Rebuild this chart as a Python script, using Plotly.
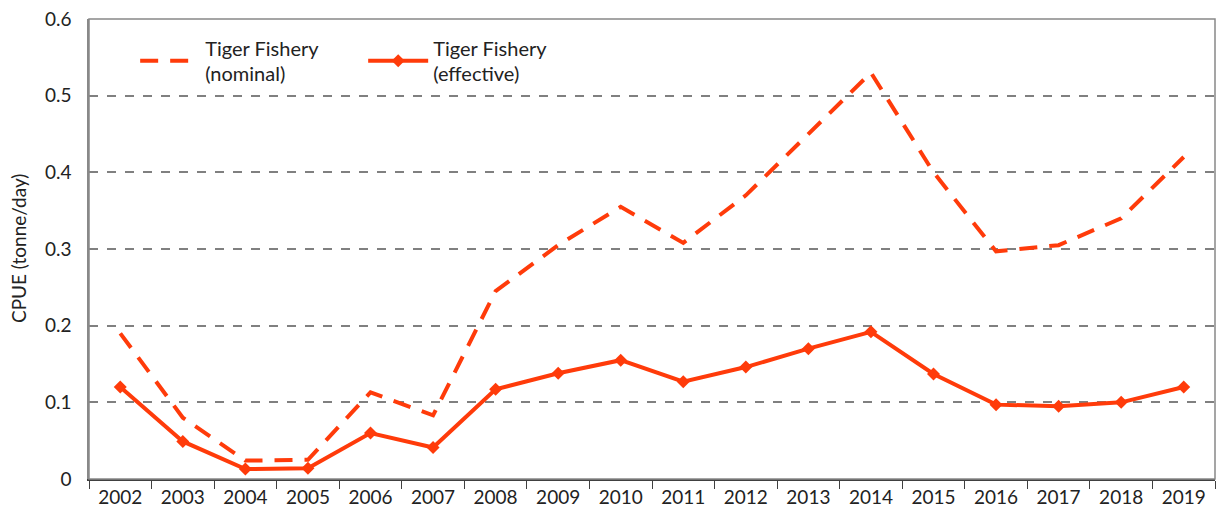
import plotly.graph_objects as go

years = [str(y) for y in range(2002, 2020)]
nominal = [0.19, 0.08, 0.024, 0.025, 0.113, 0.083, 0.245, 0.305, 0.355, 0.308,
           0.37, 0.45, 0.53, 0.40, 0.297, 0.305, 0.34, 0.42]
effective = [0.12, 0.049, 0.013, 0.014, 0.06, 0.041, 0.117, 0.138, 0.155, 0.127,
             0.146, 0.17, 0.192, 0.137, 0.097, 0.095, 0.10, 0.12]

RED = "#FF3B0A"
FONT = "Lato"
FS = 19

fig = go.Figure()
fig.add_trace(go.Scatter(x=years, y=nominal, mode="lines", name="Tiger Fishery<br>(nominal)",
                         line=dict(color=RED, width=4, dash="18px,12px")))
fig.add_trace(go.Scatter(x=years, y=effective, mode="lines+markers", name="Tiger Fishery<br>(effective)",
                         line=dict(color=RED, width=4),
                         marker=dict(symbol="diamond", size=10, color=RED)))

fig.update_xaxes(type="category", range=[-0.5, len(years) - 0.5], tickson="boundaries",
                 ticks="outside", ticklen=8, tickcolor="#404040", showline=True,
                 linecolor="#404040", linewidth=2, showgrid=False, automargin=False,
                 tickfont=dict(size=FS, color="#222"))
fig.update_yaxes(range=[0, 0.6], dtick=0.1, showline=True, linecolor="#888", linewidth=1.5,
                 gridcolor="#808080", griddash="dash", gridwidth=1.5, zeroline=False,
                 automargin=False, tickfont=dict(size=FS, color="#222"), ticks="", tickformat="~g",
                 ticklabeloverflow="allow", ticklabelstandoff=12)

# y title placed by hand
fig.add_annotation(text="CPUE (tonne/day)", textangle=-90, xref="paper", yref="paper",
                   x=-0.063, y=0.5, xanchor="center", yanchor="middle", showarrow=False,
                   font=dict(size=19, color="#222"))

# grey frame on top/right
fig.add_shape(type="rect", xref="paper", yref="paper", x0=0, x1=1, y0=0, y1=1,
              line=dict(color="#888", width=1.5), layer="above")

fig.update_layout(
    template="plotly_white",
    margin=dict(l=81, r=1, t=11, b=33),
    font=dict(family=FONT, size=FS, color="#222"),
    plot_bgcolor="white", paper_bgcolor="white",
    showlegend=True,
    legend=dict(orientation="h", x=0.041, y=0.980, xanchor="left", yanchor="top",
                bgcolor="rgba(0,0,0,0)", font=dict(size=20), entrywidth=153, itemwidth=60),
)

fig.write_html("out.html")
